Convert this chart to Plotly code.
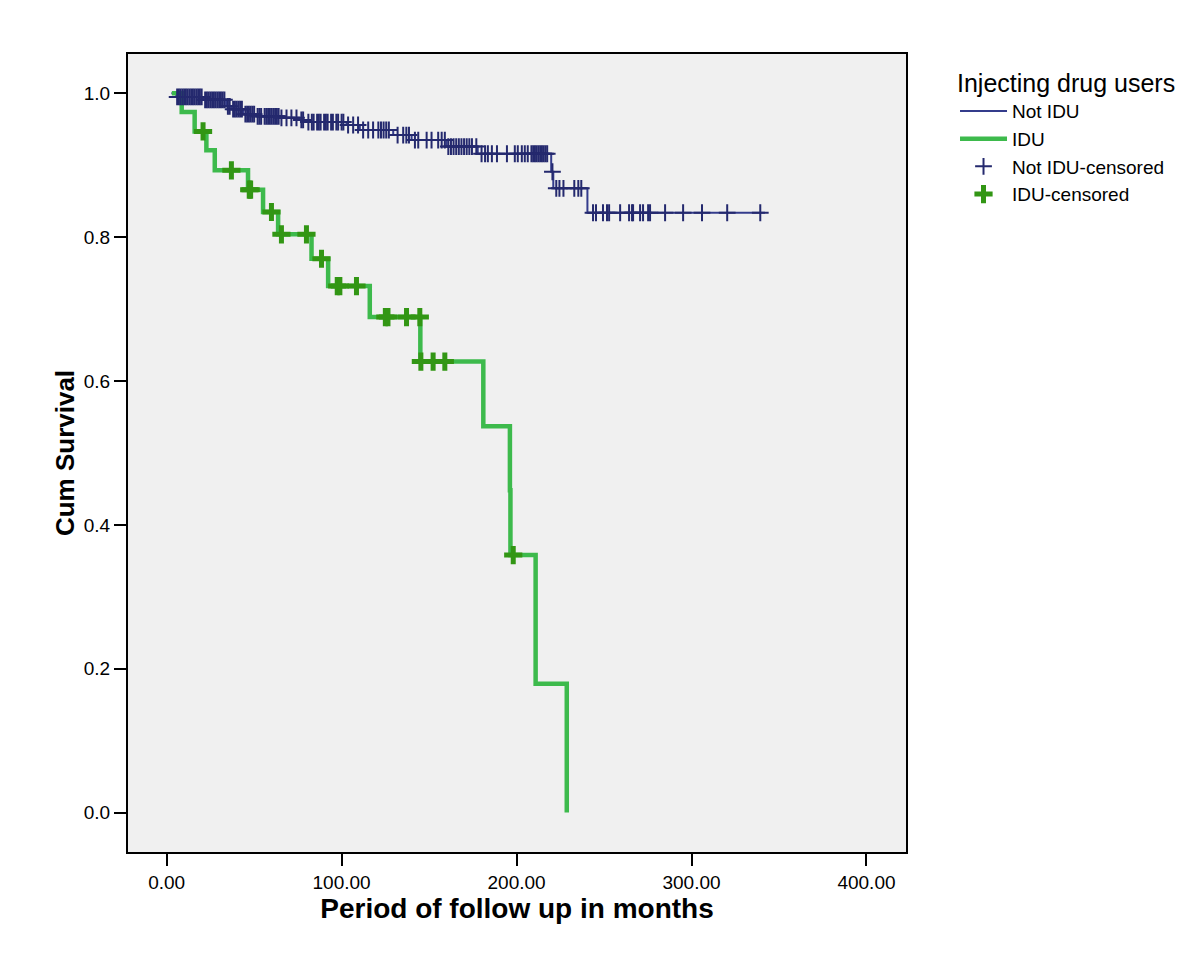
import numpy as np
import plotly.graph_objects as go

# ---------------- data ----------------
# Not IDU: step times (months) and survival after each step
not_idu_start = 2.7
not_idu_step_times = [5.5, 20.8, 34.0, 37.0, 43.7, 51.3, 64.6, 76.0, 80.0, 102.8,
                      110.4, 129.5, 140.0, 160.0, 177.8, 219.8, 221.0, 240.5]
not_idu_step_surv = [0.995, 0.991, 0.982, 0.978, 0.971, 0.968, 0.966, 0.963, 0.960, 0.956,
                     0.949, 0.942, 0.935, 0.926, 0.916, 0.891, 0.868, 0.834]
not_idu_end = 342.0
not_idu_censored = [6, 7, 8, 9, 10, 11, 12, 13, 14, 15, 16, 17, 18, 19, 20,
                    22, 23, 24, 25, 26, 27, 28, 29, 30, 31, 32, 33,
                    35, 36, 38, 39, 40, 41, 42, 43,
                    45, 46, 47, 48, 49, 50,
                    52, 53, 54, 56, 57, 58, 59, 60, 61, 62, 63, 64,
                    65.6, 68.5, 71.3, 74.2,
                    77, 78, 81, 83, 84, 86, 87, 88, 90, 91, 92, 94, 95, 97, 98, 100, 101,
                    103.7, 106.6, 109.4,
                    112.3, 115.2, 118, 121, 122.5, 124, 125.5, 127,
                    132, 135.2, 137, 138.5,
                    141.9, 143.8, 148.6, 151.4, 155.2, 157.2, 159,
                    161, 162.5, 164, 165.5, 167, 168.5, 170, 171.5, 173, 174.5, 177,
                    180, 182, 183.6, 185.9, 188.8, 194.5, 199, 200.7, 203, 204.7, 206.4,
                    208.5, 209.5, 210.5, 211.5, 212.5, 213.5, 214.5, 215.5, 216.5, 217.5,
                    220.5,
                    222.7, 224.5, 226.8, 233, 235.3, 237,
                    243.7, 245.4, 249.4, 251.7, 252.9, 259.2, 264.3, 266, 266.6, 270.6,
                    272.3, 275.2, 276.3, 284.9, 295.2, 306, 320.4, 339.3]

# IDU
idu_start = 3.0
idu_step_times = [8.6, 16.0, 22.7, 27.5, 46.5, 55.1, 63.7, 82.8, 92.3, 116.1,
                  145.0, 181.0, 196.2, 196.5, 210.9, 228.7]
idu_step_surv = [0.974, 0.947, 0.921, 0.893, 0.866, 0.835, 0.804, 0.770, 0.732, 0.689,
                 0.627, 0.537, 0.448, 0.358, 0.179, 0.0]
idu_censored = [20.8, 37.0, 47.2, 48.0, 59.9, 65.6, 79.9, 88.5, 97.5, 99.0, 108.5,
                125.0, 126.5, 137.1, 144.7, 145.3, 152.3, 159.0, 198.1]

x_ticks = [0, 100, 200, 300, 400]
x_tick_labels = ["0.00", "100.00", "200.00", "300.00", "400.00"]
y_ticks = [0.0, 0.2, 0.4, 0.6, 0.8, 1.0]
y_tick_labels = ["0.0", "0.2", "0.4", "0.6", "0.8", "1.0"]


def surv_at(t, step_times, step_surv):
    idx = np.searchsorted(np.array(step_times), np.array(t), side="right")
    levels = np.concatenate([[1.0], np.array(step_surv)])
    return levels[idx]


# curve coordinates
ni_x = [not_idu_start] + not_idu_step_times + [not_idu_end]
ni_y = [1.0] + not_idu_step_surv + [not_idu_step_surv[-1]]
id_x = [idu_start] + idu_step_times
id_y = [1.0] + idu_step_surv

ni_cy = surv_at(not_idu_censored, not_idu_step_times, not_idu_step_surv)
id_cy = surv_at(idu_censored, idu_step_times, idu_step_surv)

NAVY_LINE = "#343c8c"
NAVY_MARK = "#24296e"
GREEN_LINE = "#3dba4c"
GREEN_MARK = "#329614"
FONT = "Liberation Sans, Arial, sans-serif"

fig = go.Figure()
fig.add_trace(go.Scatter(x=ni_x, y=ni_y, mode="lines", line_shape="hv",
                         line=dict(color=NAVY_LINE, width=2), name="Not IDU"))
fig.add_trace(go.Scatter(x=id_x, y=id_y, mode="lines", line_shape="hv",
                         line=dict(color=GREEN_LINE, width=4.5), name="IDU"))
fig.add_trace(go.Scatter(x=not_idu_censored, y=ni_cy, mode="markers",
                         marker=dict(symbol="cross-thin", size=12, color=NAVY_MARK,
                                     line=dict(color=NAVY_MARK, width=2)),
                         name="Not IDU-censored"))
fig.add_trace(go.Scatter(x=idu_censored, y=id_cy, mode="markers",
                         marker=dict(symbol="cross-thin", size=13, color=GREEN_MARK,
                                     line=dict(color=GREEN_MARK, width=5)),
                         name="IDU-censored"))

# the page body adds an 8px offset; margins compensate so the frame lands where the reference has it
fig.update_layout(
    width=1200, height=979, autosize=False,
    margin=dict(l=120, r=302, t=46, b=135),
    paper_bgcolor="white", plot_bgcolor="#f0f0f0",
    font=dict(family=FONT, color="black"),
    showlegend=True,
    legend=dict(x=1.063, y=0.993, xanchor="left", yanchor="top",
                title=dict(text="Injecting drug users", font=dict(size=25)),
                font=dict(size=19), itemwidth=47, bgcolor="rgba(0,0,0,0)",
                tracegroupgap=0),
)
fig.update_xaxes(range=[-22.1, 422.6], tickvals=x_ticks, ticktext=x_tick_labels,
                 showgrid=False, zeroline=False, showline=True, mirror=True,
                 linecolor="black", linewidth=2, ticks="outside", ticklen=12,
                 tickwidth=2, tickcolor="black", tickfont=dict(size=19),
                 title=dict(text="<b>Period of follow up in months</b>",
                            font=dict(size=28), standoff=7))
fig.update_yaxes(range=[-0.0548, 1.0547], tickvals=y_ticks, ticktext=y_tick_labels,
                 showgrid=False, zeroline=False, showline=True, mirror=True,
                 linecolor="black", linewidth=2, ticks="outside", ticklen=12,
                 tickwidth=2, tickcolor="black", tickfont=dict(size=19),
                 title=dict(text="<b>Cum Survival</b>", font=dict(size=26), standoff=2))

fig.write_html("out.html")
